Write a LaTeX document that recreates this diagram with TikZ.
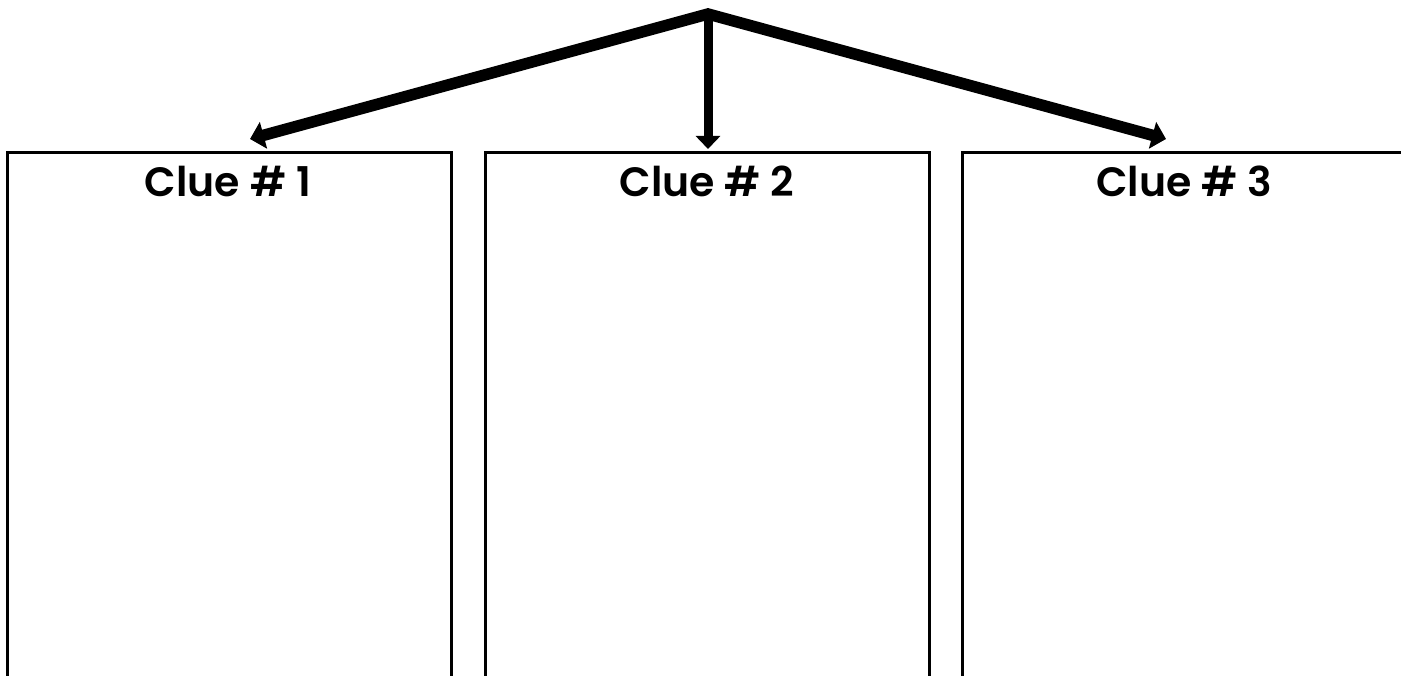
\documentclass[tikz,border=0pt]{standalone}
\usepackage{fontspec}
\setmainfont{Poppins}[BoldFont={Poppins SemiBold}]
\usetikzlibrary{arrows.meta}
\tikzset{
  cluebox/.style={draw=black, line width=3pt, minimum width=444pt, minimum height=560pt, anchor=north, inner sep=0pt},
  cluelabel/.style={font=\bfseries\fontsize{41}{41}\selectfont, anchor=base, inner sep=0pt},
  bigarrow/.style={line width=11.5pt, line join=miter, {Triangle[width=27pt,length=14pt]}-{Triangle[width=27pt,length=14pt]}},
  vertarrow/.style={line width=9pt, -{Triangle[width=24pt,length=13pt]}}
}
\begin{document}
\begin{tikzpicture}[x=1pt,y=-1pt]
\useasboundingbox (0,0) rectangle (1401,676);
\begin{scope}
\clip (0,0) rectangle (1401,676);
\node[cluebox] (b1) at (229,151) {};
\node[cluebox] (b2) at (707,151) {};
\node[cluebox] (b3) at (1184,151) {};
\end{scope}
\node[cluelabel] (l1) at (228,197) {Clue \# 1};
\node[cluelabel] (l2) at (707,197) {Clue \# 2};
\node[cluelabel] (l3) at (1184,197) {Clue \# 3};
\coordinate (top) at (708,14);
\coordinate (t1) at (250,139);
\coordinate (t2) at (708,149);
\coordinate (t3) at (1166,139);
\draw[bigarrow] (t1) -- (top) -- (t3);
\draw[vertarrow] (top) -- (t2);
\end{tikzpicture}
\end{document}
